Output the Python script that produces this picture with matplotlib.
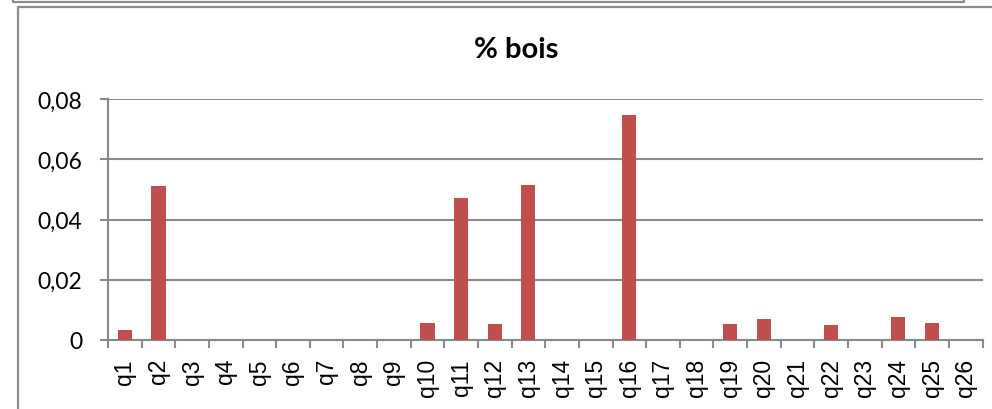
import matplotlib
matplotlib.use("Agg")
import matplotlib.pyplot as plt
from matplotlib.lines import Line2D
from matplotlib.ticker import FuncFormatter

questions = ["q%d" % i for i in range(1, 27)]
bois = [0.0034, 0.051, 0, 0, 0, 0, 0, 0, 0, 0.0056, 0.047, 0.0052, 0.0515,
        0, 0, 0.0747, 0, 0, 0.0052, 0.0069, 0, 0.0050, 0, 0.0077, 0.0057, 0]
y_ticks = [0, 0.02, 0.04, 0.06, 0.08]

W, H = 992, 410
fig = plt.figure(figsize=(W / 100, H / 100), dpi=100)
ax = fig.add_axes([108 / W, (H - 341) / H, (982.5 - 108) / W, 241 / H])

grid_c = "#8a8a8a"
x = range(len(questions))
ax.bar(x, bois, width=0.42, color="#C0504D", zorder=3)

ax.set_xlim(-0.5, len(questions) - 0.5)
ax.set_ylim(0, 0.08)
ax.set_yticks(y_ticks)
ax.yaxis.set_major_formatter(FuncFormatter(lambda v, p: "0" if v == 0 else ("%.2f" % v).replace(".", ",")))
ax.grid(axis="y", color=grid_c, linewidth=1.5, zorder=0)

# category boundaries carry the ticks, labels sit at the centers
ax.set_xticks([i - 0.5 for i in range(len(questions) + 1)], minor=False)
ax.set_xticklabels([])
ax.set_xticks(list(x), minor=True)
ax.set_xticklabels(questions, minor=True)
ax.tick_params(axis="x", which="major", length=6, width=1.5, color=grid_c)
ax.tick_params(axis="x", which="minor", length=0, pad=13, labelrotation=90,
               labelsize=16.5, labelfontfamily="Liberation Sans")
ax.tick_params(axis="y", length=5.5, width=1.5, color=grid_c, pad=13,
               labelsize=16.5, labelfontfamily="Lato")

for side in ("top", "right"):
    ax.spines[side].set_visible(False)
for side in ("left", "bottom"):
    ax.spines[side].set_color(grid_c)
    ax.spines[side].set_linewidth(1.5)

fig.text(516 / W, 1 - 50 / H, "% bois", ha="center", va="center",
         fontsize=21, fontweight="bold", family="Lato")

# frames around the chart and the box above it
def frame(xs, ys):
    fig.add_artist(Line2D([v / W for v in xs], [1 - v / H for v in ys],
                          color="#8c8c8c", linewidth=1.6))

frame([13, 13, 964, 964], [-2, 3, 3, -2])
frame([18, 18, W + 2], [H + 2, 8, 8])

fig.savefig("out.png", dpi=100, facecolor="white")
